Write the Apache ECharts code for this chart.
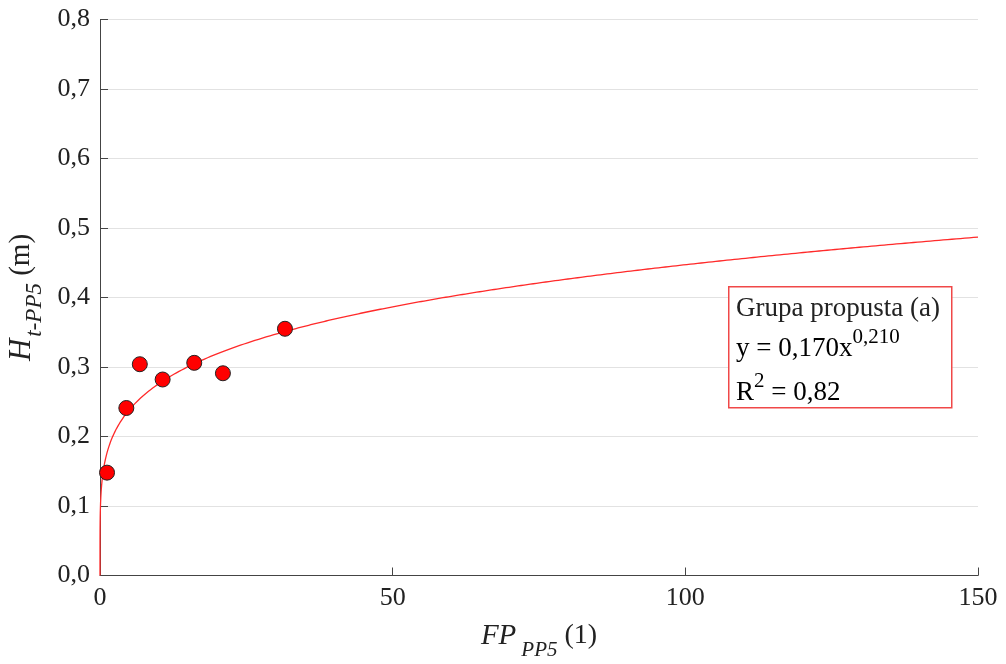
<!DOCTYPE html>
<html>
<head>
<meta charset="utf-8">
<script src="https://cdn.jsdelivr.net/npm/echarts@6/dist/echarts.min.js"></script>
<style>
  html, body { margin: 0; padding: 0; background: #fff; }
  #chart { width: 1006px; height: 664px; }
</style>
</head>
<body>
<div id="chart"></div>
<script>
// measured points (FP_PP5, H_t-PP5)
const fpValues = [1.2, 4.5, 6.8, 10.7, 16.1, 21.0, 31.6]
const hValues = [0.148, 0.241, 0.304, 0.282, 0.306, 0.291, 0.355]

// power fit printed on the chart: y = a * x^b
const fitCoef = 0.170
const fitExp = 0.210
const fitXMax = 150

const xTicks = [0, 50, 100, 150]
const yTicks = [0, 0.1, 0.2, 0.3, 0.4, 0.5, 0.6, 0.7, 0.8]

const serif = '"Liberation Serif", "DejaVu Serif", serif'

const points = fpValues.map((x, i) => [x, hValues[i]])

// trend line sampled along x (denser near zero where it bends)
const fitLine = []
for (let i = 0; i <= 400; i++) {
  const x = fitXMax * Math.pow(i / 400, 2)
  fitLine.push([x, fitCoef * Math.pow(x, fitExp)])
}

const chart = echarts.init(document.getElementById('chart'))

chart.setOption({
  animation: false,
  grid: {
    left: 100,
    right: 28,
    top: 19.5,
    bottom: 88.5,
    containLabel: false,
    outerBoundsMode: 'none'
  },
  xAxis: {
    type: 'value',
    min: xTicks[0],
    max: xTicks[xTicks.length - 1],
    interval: 50,
    axisLine: { lineStyle: { color: '#444', width: 1 } },
    axisTick: { inside: true, length: 8, lineStyle: { color: '#444' } },
    axisLabel: {
      color: '#222',
      fontFamily: serif,
      fontSize: 26,
      margin: 10
    },
    splitLine: { show: false },
    name: '{i|FP}{sub|PP5}{n| (1)}',
    nameLocation: 'middle',
    nameGap: 36,
    nameTextStyle: {
      rich: {
        i: { fontFamily: serif, fontStyle: 'italic', fontSize: 29, color: '#222' },
        sub: { fontFamily: serif, fontStyle: 'italic', fontSize: 21, color: '#222', padding: [28, 0, 0, 5] },
        n: { fontFamily: serif, fontSize: 28, color: '#222' }
      }
    }
  },
  yAxis: {
    type: 'value',
    min: yTicks[0],
    max: yTicks[yTicks.length - 1],
    interval: 0.1,
    axisLine: { show: true, lineStyle: { color: '#444', width: 1 } },
    axisTick: { show: true, inside: true, length: 8, lineStyle: { color: '#444' } },
    axisLabel: {
      color: '#222',
      fontFamily: serif,
      fontSize: 26,
      margin: 10,
      formatter: v => v.toFixed(1).replace('.', ',')
    },
    splitLine: { show: true, lineStyle: { color: '#e2e2e2', width: 1 } },
    name: '{i|H}{sub|t-PP5}{n| (m)}',
    nameLocation: 'middle',
    nameRotate: 90,
    nameGap: 54,
    nameTextStyle: {
      rich: {
        i: { fontFamily: serif, fontStyle: 'italic', fontSize: 31, color: '#222' },
        sub: { fontFamily: serif, fontStyle: 'italic', fontSize: 23, color: '#222', padding: [26, 0, 0, 2] },
        n: { fontFamily: serif, fontSize: 29, color: '#222' }
      }
    }
  },
  series: [
    {
      name: 'fit',
      type: 'line',
      data: fitLine,
      showSymbol: false,
      smooth: false,
      lineStyle: { color: '#ff2a2a', width: 1.3 },
      z: 2
    },
    {
      name: 'Grupa propusta (a)',
      type: 'scatter',
      data: points,
      symbolSize: 15,
      itemStyle: { color: '#ff0000', opacity: 1, borderColor: '#222', borderWidth: 1 },
      z: 3
    }
  ],
  graphic: [
    {
      type: 'rect',
      left: 728,
      top: 286,
      shape: { width: 223, height: 121 },
      style: { fill: '#fff', stroke: '#f04848', lineWidth: 1.5 },
      z: 10
    },
    {
      type: 'text',
      left: 736,
      top: 295,
      z: 11,
      style: {
        text: 'Grupa propusta (a)',
        font: '27px ' + serif,
        fill: '#222'
      }
    },
    {
      type: 'text',
      left: 736,
      top: 327,
      z: 11,
      style: {
        text: '{n|y = 0,170x}{sup|0,210}',
        rich: {
          n: { fontFamily: serif, fontSize: 27, color: '#222', padding: [10, 0, 0, 0] },
          sup: { fontFamily: serif, fontSize: 21, color: '#222', padding: [0, 0, 12, 0] }
        }
      }
    },
    {
      type: 'text',
      left: 736,
      top: 371,
      z: 11,
      style: {
        text: '{n|R}{sup|2}{n| = 0,82}',
        rich: {
          n: { fontFamily: serif, fontSize: 27, color: '#222', padding: [10, 0, 0, 0] },
          sup: { fontFamily: serif, fontSize: 21, color: '#222', padding: [0, 0, 12, 0] }
        }
      }
    }
  ]
})
</script>
</body>
</html>
